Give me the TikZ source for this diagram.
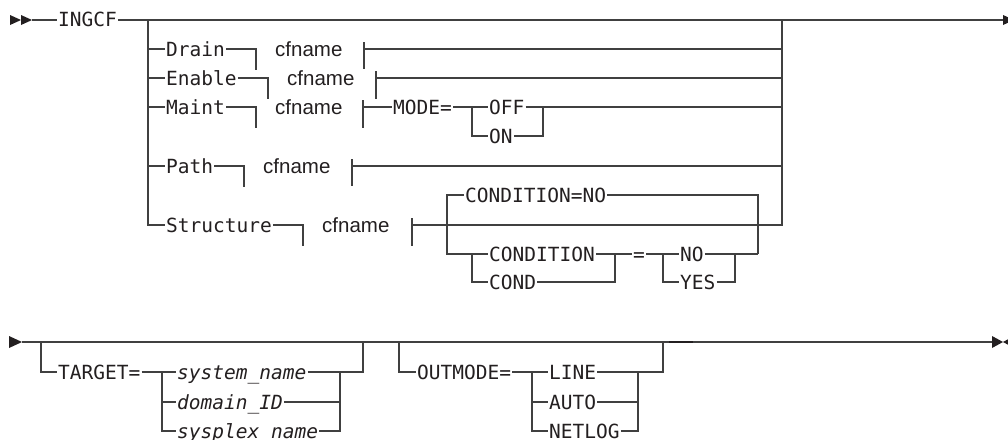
\documentclass[tikz,border=0pt]{standalone}
\usepackage{fontspec}
\newfontfamily\monofam{DejaVu Sans Mono}
\newfontfamily\cffam{Liberation Sans}
\definecolor{ln}{HTML}{404040}
\definecolor{tx}{HTML}{231F20}
\begin{document}
\begin{tikzpicture}[x=1pt,y=-1pt,
  rr/.style={draw=ln,line width=1.3pt},
  kw/.style={font=\monofam\fontsize{19.5pt}{20pt}\selectfont,text=tx,inner xsep=1pt,inner ysep=0pt,text height=16pt,text depth=2pt,anchor=west},
  kwi/.style={kw,font=\monofam\itshape\fontsize{19.5pt}{20pt}\selectfont},
  cf/.style={kw,font=\cffam\fontsize{20.5pt}{22pt}\selectfont},
  tip/.style={fill=tx,draw=none}]
\useasboundingbox (0,0) rectangle (1008,439);
% ---------- row 1 ----------
\fill[tip] (10,15) -- (21,20) -- (10,25) -- cycle;
\fill[tip] (21,15) -- (32,20) -- (21,25) -- cycle;
\coordinate (st1) at (32,20);
\node[kw] (ingcf) at (57,20) {INGCF};
\coordinate (b1) at (148,20);
\coordinate (b2) at (782,20);
\coordinate (e1) at (1003,20);
\draw[rr] (st1) -- (ingcf.west);
\draw[rr] (ingcf.east) -- (e1);
\fill[tip] (1003,15) -- (1014,20) -- (1003,25) -- cycle;
% Drain
\node[kw] (drain) at (165,49) {Drain};
\coordinate (drL) at (256,49);
\node[cf] (drcf) at (274,49) {cfname};
\coordinate (drR) at (364,49);
\draw[rr] (b1 |- drain.west) -- (drain.west);
\draw[rr] (drain.east) -- (drL) -- ++(0,21);
\draw[rr] ([shift={(0,-7)}]drR) -- ([shift={(0,20)}]drR);
\draw[rr] (drR) -- (b2 |- drR);
% Enable
\node[kw] (enable) at (165,78) {Enable};
\coordinate (enL) at (268,78);
\node[cf] (encf) at (286,78) {cfname};
\coordinate (enR) at (376,78);
\draw[rr] (b1 |- enable.west) -- (enable.west);
\draw[rr] (enable.east) -- (enL) -- ++(0,21);
\draw[rr] ([shift={(0,-7)}]enR) -- ([shift={(0,21)}]enR);
\draw[rr] (enR) -- (b2 |- enR);
% Maint
\node[kw] (maint) at (165,107) {Maint};
\coordinate (mtL) at (256,107);
\node[cf] (mtcf) at (274,107) {cfname};
\coordinate (mtR) at (363,107);
\draw[rr] (b1 |- maint.west) -- (maint.west);
\draw[rr] (maint.east) -- (mtL) -- ++(0,21);
\draw[rr] ([shift={(0,-7)}]mtR) -- ([shift={(0,21)}]mtR);
\node[kw] (mode) at (392,107) {MODE=};
\coordinate (mS) at (472,107);
\coordinate (mJ) at (543,107);
\node[kw] (off) at (488,107) {OFF};
\node[kw] (on) at (488,136) {ON};
\draw[rr] (mtR) -- (mode.west);
\draw[rr] (mode.east) -- (mS) -- (off.west);
\draw[rr] (mS) |- (on.west);
\draw[rr] (off.east) -- (mJ) -- (b2 |- mJ);
\draw[rr] (on.east) -| (mJ);
% Path
\node[kw] (path) at (165,166) {Path};
\coordinate (paL) at (244,166);
\node[cf] (pacf) at (262,166) {cfname};
\coordinate (paR) at (352,166);
\draw[rr] (b1 |- path.west) -- (path.west);
\draw[rr] (path.east) -- (paL) -- ++(0,21);
\draw[rr] ([shift={(0,-7)}]paR) -- ([shift={(0,20)}]paR);
\draw[rr] (paR) -- (b2 |- paR);
% Structure
\node[kw] (struct) at (165,225) {Structure};
\coordinate (stL) at (303,225);
\node[cf] (stcf) at (321,225) {cfname};
\coordinate (stR) at (412,225);
\draw[rr] (b1) |- (struct.west);
\draw[rr] (struct.east) -- (stL) -- ++(0,21);
\draw[rr] ([shift={(0,-7)}]stR) -- ([shift={(0,21)}]stR);
\draw[rr] (stR) -| (b2);
% condition loop
\node[kw] (cdn) at (464,195) {CONDITION=NO};
\coordinate (lpB) at (447,254);
\coordinate (cS) at (472,254);
\node[kw] (cond1) at (488,254) {CONDITION};
\node[kw] (cond2) at (488,282) {COND};
\coordinate (cJ) at (615,254);
\node[kw] (eq) at (632,254) {=};
\coordinate (nS) at (663,254);
\node[kw] (no) at (679,254) {NO};
\node[kw] (yes) at (679,282) {YES};
\coordinate (nJ) at (735,254);
\coordinate (lpRB) at (758,254);
\draw[rr] (cdn.west) -| (lpB) -- (cS) -- (cond1.west);
\draw[rr] (cS) |- (cond2.west);
\draw[rr] (cond1.east) -- (cJ) -- (eq.west);
\draw[rr] (cond2.east) -| (cJ);
\draw[rr] (eq.east) -- (nS) -- (no.west);
\draw[rr] (nS) |- (yes.west);
\draw[rr] (no.east) -- (nJ) -- (lpRB);
\draw[rr] (yes.east) -| (nJ);
\draw[rr] (cdn.east) -| (lpRB);
% ---------- row 2 ----------
\fill[tip] (9,336) -- (22,342) -- (9,348) -- cycle;
\coordinate (st2) at (22,342);
\coordinate (e2) at (992,342);
\draw[rr] (st2) -- (e2);
\fill[tip] (992,336) -- (1003,342) -- (992,348) -- cycle;
\fill[tip] (1014,336) -- (1003,342) -- (1014,348) -- cycle;
\coordinate (d1) at (669,342);
\coordinate (d2) at (693,342);
\draw[rr,draw=tx,line width=2pt] (d1) -- (d2);
% TARGET
\coordinate (tL) at (41,342);
\node[kw] (target) at (57,372) {TARGET=};
\coordinate (tS) at (162,372);
\node[kwi] (sys) at (176,372) {system\_name};
\node[kwi] (dom) at (176,402) {domain\_ID};
\node[kwi] (plex) at (176,431) {sysplex\_name};
\coordinate (tJ) at (340,372);
\coordinate (tR) at (363,342);
\draw[rr] (tL) |- (target.west);
\draw[rr] (target.east) -- (tS) -- (sys.west);
\draw[rr] (tS) |- (dom.west);
\draw[rr] (tS) |- (plex.west);
\draw[rr] (sys.east) -- (tJ) -| (tR);
\draw[rr] (dom.east) -| (tJ);
\draw[rr] (plex.east) -| (tJ);
% OUTMODE
\coordinate (oL) at (399,342);
\node[kw] (outm) at (416,372) {OUTMODE=};
\coordinate (oS) at (532,372);
\node[kw] (oline) at (548,372) {LINE};
\node[kw] (oauto) at (548,402) {AUTO};
\node[kw] (onet) at (548,431) {NETLOG};
\coordinate (oJ) at (638,372);
\coordinate (oR) at (663,342);
\draw[rr] (oL) |- (outm.west);
\draw[rr] (outm.east) -- (oS) -- (oline.west);
\draw[rr] (oS) |- (oauto.west);
\draw[rr] (oS) |- (onet.west);
\draw[rr] (oline.east) -- (oJ) -| (oR);
\draw[rr] (oauto.east) -| (oJ);
\draw[rr] (onet.east) -| (oJ);
\end{tikzpicture}
\end{document}
